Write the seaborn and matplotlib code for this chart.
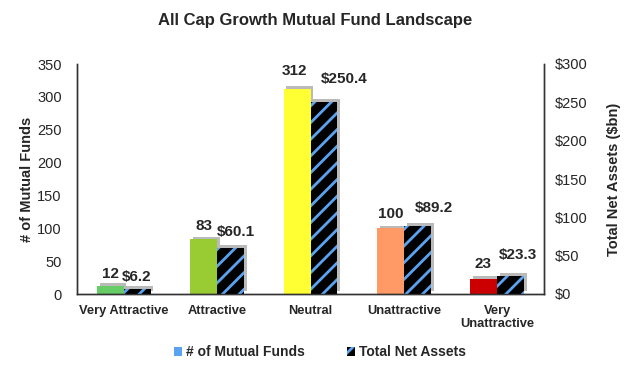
import matplotlib
matplotlib.use("Agg")
import matplotlib.pyplot as plt
import matplotlib.patheffects as pe
from matplotlib.patches import Patch
from matplotlib.ticker import FuncFormatter, MultipleLocator
import numpy as np
import pandas as pd
import seaborn as sns

categories = ["Very Attractive", "Attractive", "Neutral", "Unattractive", "Very\nUnattractive"]
num_funds = [12, 83, 312, 100, 23]
net_assets = [6.2, 60.1, 250.4, 89.2, 23.3]
fund_colors = ["#66CC66", "#99CC33", "#FFFF33", "#FF9966", "#CC0000"]
hatch_bg = "#000000"
hatch_fg = "#5BA3F0"

# label nudges in pixels (the source chart has hand-placed labels)
fund_lbl_dx = [0, 0, -3, 0, -1]
fund_lbl_dy = [8, 9, 14, 10, 11]
asset_lbl_dx = [0, 5, 20, 17, 7]
asset_lbl_dy = [8, 12, 19, 14, 17]

sns.set_style("white")
plt.rcParams["font.family"] = ["Liberation Sans", "DejaVu Sans"]
plt.rcParams["hatch.linewidth"] = 2.0

df_funds = pd.DataFrame({"cat": categories, "val": num_funds, "series": "funds"})
df_assets = pd.DataFrame({"cat": categories, "val": net_assets, "series": "assets"})
order = ["funds", "assets"]

fig = plt.figure(figsize=(6.3, 3.68), dpi=100)
ax = fig.add_axes([77 / 630, 1 - 294 / 368, 467 / 630, 230 / 368])
ax2 = ax.twinx()

shadow = [pe.SimplePatchShadow(offset=(2, 2), shadow_rgbFace="#8c8c8c", alpha=0.6, hatch=None),
          pe.Normal()]

sns.barplot(data=df_funds, x="cat", y="val", hue="series", hue_order=order,
            order=categories, width=0.575, dodge=True, ax=ax, legend=False,
            palette={"funds": "white", "assets": "white"}, saturation=1, linewidth=0)
sns.barplot(data=df_assets, x="cat", y="val", hue="series", hue_order=order,
            order=categories, width=0.575, dodge=True, ax=ax2, legend=False,
            palette={"funds": "white", "assets": "white"}, saturation=1, linewidth=0)

for p, c, v, dx, dy in zip(ax.patches, fund_colors, num_funds, fund_lbl_dx, fund_lbl_dy):
    p.set_facecolor(c)
    p.set_edgecolor(c)
    p.set_linewidth(0)
    p.set_path_effects(shadow)
    ax.annotate(f"{v}", (p.get_x() + p.get_width() / 2, p.get_height()),
                xytext=(dx, dy), textcoords="offset pixels", ha="center", va="baseline",
                fontsize=11, fontweight="bold")

for p, v, dx, dy in zip(ax2.patches, net_assets, asset_lbl_dx, asset_lbl_dy):
    p.set_facecolor(hatch_bg)
    p.set_edgecolor(hatch_fg)
    p.set_hatch("//")
    p.set_linewidth(0)
    p.set_path_effects(shadow)
    ax2.annotate(f"${v:.1f}", (p.get_x() + p.get_width() / 2, p.get_height()),
                 xytext=(dx, dy), textcoords="offset pixels", ha="center", va="baseline",
                 fontsize=11, fontweight="bold")

ax.set_xlim(-0.5, 4.5)
ax.set_ylim(0, 350)
ax2.set_ylim(0, 300)
ax.yaxis.set_major_locator(MultipleLocator(50))
ax2.yaxis.set_major_locator(MultipleLocator(50))
ax2.yaxis.set_major_formatter(FuncFormatter(lambda y, _: f"${y:.0f}"))

ax.set_xlabel("")
ax2.set_xlabel("")
ax.set_ylabel("# of Mutual Funds", fontsize=10.5, fontweight="bold", labelpad=2)
ax2.set_ylabel("Total Net Assets ($bn)", fontsize=10.5, fontweight="bold", labelpad=14)

ax.set_xticks(np.arange(len(categories)))
ax.set_xticklabels(categories, fontsize=9.3, fontweight="bold", linespacing=1.15)
ax.tick_params(axis="x", length=0, pad=8)
ax.set_xticks(np.arange(len(categories) - 1) + 0.5, minor=True)
ax.tick_params(axis="x", which="minor", length=4, direction="out", color="#333333")
ax.tick_params(axis="y", labelsize=10.5, length=0, pad=11)
ax2.tick_params(axis="y", labelsize=10.5, length=0, pad=8)

for a in (ax, ax2):
    a.spines["top"].set_visible(False)
    for s in ("left", "right", "bottom"):
        a.spines[s].set_color("#333333")
        a.spines[s].set_linewidth(1)

fig.suptitle("All Cap Growth Mutual Fund Landscape", x=0.5, y=0.965,
             fontsize=12, fontweight="bold")

handles = [Patch(facecolor=hatch_fg, edgecolor=hatch_fg, linewidth=0),
           Patch(facecolor=hatch_bg, edgecolor=hatch_fg, hatch="//", linewidth=0)]
fig.legend(handles, ["# of Mutual Funds", "Total Net Assets"], loc="center",
           bbox_to_anchor=(0.508, 1 - 352 / 368), ncol=2, frameon=False,
           prop={"weight": "bold", "size": 10}, handlelength=0.6, handleheight=0.6,
           handletextpad=0.3, columnspacing=3.0)

fig.savefig("out.png", dpi=100)
